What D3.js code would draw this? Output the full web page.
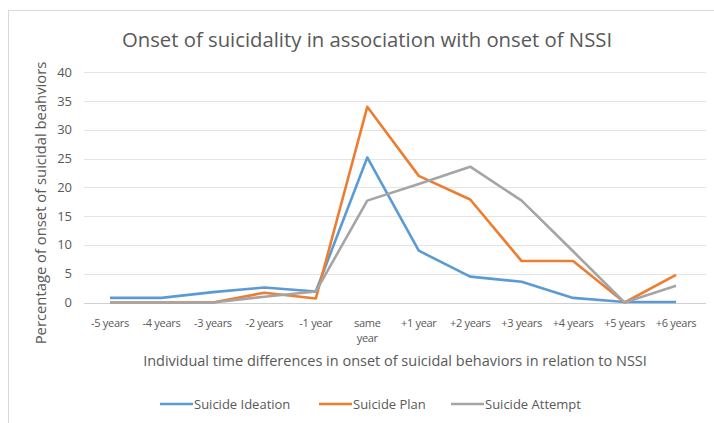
<!DOCTYPE html>
<html>
<head>
<meta charset="utf-8">
<script src="https://cdn.jsdelivr.net/npm/d3@7"></script>
<style>
  body { margin: 0; background: #fff; }
  text { font-family: "Open Sans", "Noto Sans", sans-serif; fill: #595959; }
</style>
</head>
<body>
<svg width="714" height="423"></svg>
<script>
// chart data
let categories = ["-5 years", "-4 years", "-3 years", "-2 years", "-1 year", "same year",
  "+1 year", "+2 years", "+3 years", "+4 years", "+5 years", "+6 years"];
let ideation = [0.8, 0.8, 1.8, 2.6, 1.9, 25.2, 9.0, 4.5, 3.6, 0.8, 0.1, 0.1];
let plan = [0, 0, 0, 1.7, 0.7, 34.0, 22.0, 17.9, 7.2, 7.2, 0, 4.8];
let attempt = [0, 0, 0, 1.0, 1.9, 17.7, 20.6, 23.6, 17.7, 8.9, 0, 2.9];
let yTicks = [0, 5, 10, 15, 20, 25, 30, 35, 40];
let seriesNames = ["Suicide Ideation", "Suicide Plan", "Suicide Attempt"];
let colors = ["#5b9bd5", "#ed7d31", "#a5a5a5"];

let svg = d3.select("svg");

// frame
svg.append("rect")
  .attr("x", 8.5).attr("y", 10.5)
  .attr("width", 720).attr("height", 430)
  .attr("fill", "none").attr("stroke", "#d9d9d9");

let x = d3.scalePoint().domain(categories).range([110, 676]);
let y = d3.scaleLinear().domain([0, 40]).range([302.5, 72.3]);

// gridlines
svg.append("g").selectAll("line")
  .data(yTicks)
  .enter().append("line")
  .attr("x1", 84).attr("x2", 706)
  .attr("y1", (d) => Math.round(y(d)) + 0.5)
  .attr("y2", (d) => Math.round(y(d)) + 0.5)
  .attr("stroke", (d) => d === 0 ? "#d0d0d0" : "#e4e4e4");

// y tick labels
svg.append("g").selectAll("text")
  .data(yTicks)
  .enter().append("text")
  .attr("x", 72).attr("y", (d) => y(d) + 4.5)
  .attr("text-anchor", "end")
  .style("font-size", "13px")
  .text((d) => d);

// x tick labels (wrap "same year")
let xl = svg.append("g").selectAll("text")
  .data(categories)
  .enter().append("text")
  .attr("x", (d) => x(d)).attr("y", 327)
  .attr("text-anchor", "middle")
  .style("font-size", "11px")
  .style("letter-spacing", "-0.3px");
xl.each(function (d) {
  let words = d === "same year" ? ["same", "year"] : [d];
  d3.select(this).selectAll("tspan")
    .data(words)
    .enter().append("tspan")
    .attr("x", x(d))
    .attr("dy", (w, i) => i ? 15 : 0)
    .text((w) => w);
});

// lines
let line = d3.line()
  .x((d, i) => x(categories[i]))
  .y((d) => y(d));

[ideation, plan, attempt].forEach((s, i) => {
  svg.append("path")
    .datum(s)
    .attr("d", line)
    .attr("fill", "none")
    .attr("stroke", colors[i])
    .attr("stroke-width", 2.6)
    .attr("stroke-linejoin", "round");
});

// titles
svg.append("text")
  .attr("x", 367).attr("y", 47)
  .attr("text-anchor", "middle")
  .style("font-size", "20.3px")
  .text("Onset of suicidality in association with onset of NSSI");

svg.append("text")
  .attr("transform", "translate(46,203) rotate(-90)")
  .attr("text-anchor", "middle")
  .style("font-size", "14.8px")
  .text("Percentage of onset of suicidal beahviors");

svg.append("text")
  .attr("x", 395).attr("y", 366)
  .attr("text-anchor", "middle")
  .style("font-size", "14.5px")
  .text("Individual time differences in onset of suicidal behaviors in relation to NSSI");

// legend
let legendX = [160, 319, 451];
let lg = svg.append("g").selectAll("g")
  .data(seriesNames)
  .enter().append("g")
  .attr("transform", (d, i) => "translate(" + legendX[i] + ",404)");
lg.append("line")
  .attr("x1", 0).attr("x2", 33)
  .attr("stroke", (d, i) => colors[i])
  .attr("stroke-width", 2.6);
lg.append("text")
  .attr("x", 34).attr("y", 4.5)
  .style("font-size", "13px")
  .text((d) => d);
</script>
</body>
</html>
